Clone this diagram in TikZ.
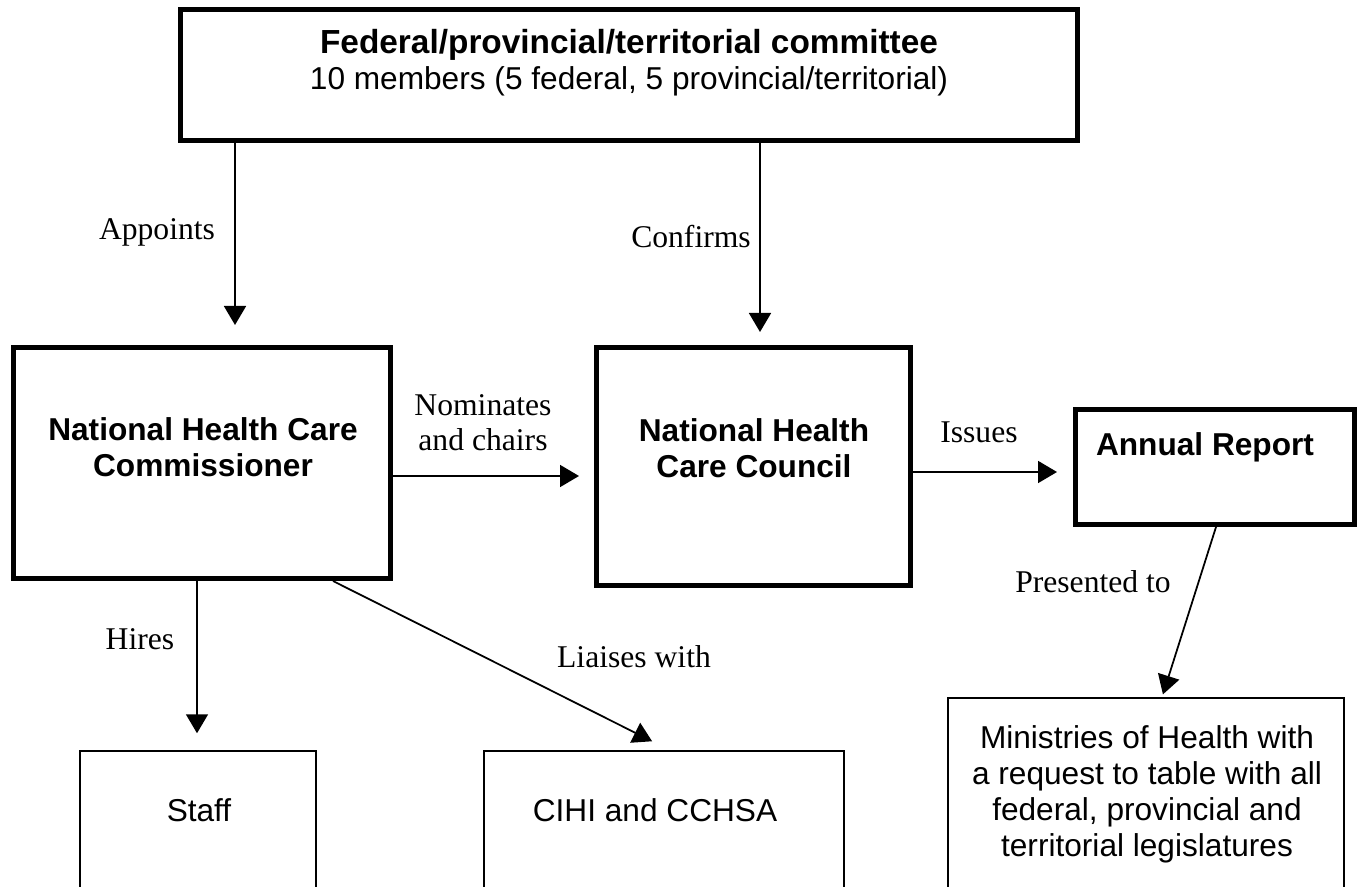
\documentclass[tikz,border=0pt]{standalone}
\usepackage{fontspec}
\setmainfont{Liberation Serif}
\setsansfont{Liberation Sans}
\usetikzlibrary{arrows.meta}

\tikzset{
    heavybox/.style={draw, line width=2.85pt, inner sep=0pt},
    lightbox/.style={draw, line width=0.85pt, inner sep=0pt},
    boxtext/.style={font=\sffamily\fontsize{18}{20.5}\selectfont, align=center, inner sep=0pt},
    linktext/.style={font=\fontsize{18}{20}\selectfont, align=center, inner sep=0pt},
    link/.style={line width=1pt, -{Triangle[length=0.38cm, width=0.44cm]}}
}

\begin{document}
\begin{tikzpicture}
        \clip (0,0) rectangle (27.28,17.72);

        % Committee at the top
        \node[heavybox, minimum width=17.94cm, minimum height=2.62cm] (fpt) at (12.58,16.22) {};
        \node[boxtext] (fpttext) at (12.58,16.46) {{\fontsize{19}{20.5}\selectfont\bfseries Federal/provincial/territorial committee}\\10 members (5 federal, 5 provincial/territorial)};

        % Commissioner, council and report
        \node[heavybox, minimum width=7.54cm, minimum height=4.62cm] (comm) at (4.04,8.46) {};
        \node[boxtext] (commtext) at (4.06,8.78) {\bfseries National Health Care\\\bfseries Commissioner};
        \node[heavybox, minimum width=6.28cm, minimum height=4.76cm] (council) at (15.07,8.39) {};
        \node[boxtext] (counciltext) at (15.08,8.76) {\bfseries National Health\\\bfseries Care Council};
        \node[heavybox, minimum width=5.58cm, minimum height=2.3cm] (report) at (24.3,8.38) {};
        \node[boxtext] (reporttext) at (24.1,8.78) {\bfseries Annual Report};

        % Bottom boxes, cut by the page edge
        \node[lightbox, minimum width=4.72cm, minimum height=3.38cm] (staff) at (3.96,1.01) {};
        \node[boxtext] (stafftext) at (3.98,1.52) {Staff};
        \node[lightbox, minimum width=7.2cm, minimum height=3.38cm] (cihi) at (13.28,1.01) {};
        \node[boxtext] (cihitext) at (13.1,1.52) {CIHI and CCHSA};
        \node[lightbox, minimum width=7.92cm, minimum height=4.44cm] (min) at (22.92,1.54) {};
        \node[boxtext] (mintext) at (22.94,1.83) {Ministries of Health with\\a request to table with all\\federal, provincial and\\territorial legislatures};

        % Connectors
        \draw[link, shorten >=0.4cm] (fpt.south -| 4.7,0) -- (comm.north -| 4.7,0);
        \draw[link, shorten >=0.26cm] (fpt.south -| 15.2,0) -- (council.north -| 15.2,0);
        \draw[link, shorten >=0.3cm] (comm.east |- 0,8.2) -- (council.west |- 0,8.2);
        \draw[link, shorten >=0.32cm] (council.east |- 0,8.28) -- (report.west |- 0,8.28);
        \draw[link, shorten >=0.34cm] (comm.south -| 3.94,0) -- (staff.north -| 3.94,0);
        \draw[link, shorten >=0.4cm] (comm.south -| 6.66,0) -- (cihi.north -| 13.4,0);
        \draw[link, shorten >=0.06cm] (report.south -| 24.32,0) -- (min.north -| 23.24,0);

        % Connector labels
        \node[linktext] (appoints) at (3.14,13.08) {Appoints};
        \node[linktext] (confirms) at (13.82,12.98) {Confirms};
        \node[linktext] (nominates) at (9.66,9.27) {Nominates\\and chairs};
        \node[linktext] (issues) at (19.58,9.08) {Issues};
        \node[linktext] (presented) at (21.86,6.08) {Presented to};
        \node[linktext] (hires) at (2.8,4.94) {Hires};
        \node[linktext] (liaises) at (12.68,4.58) {Liaises with};
\end{tikzpicture}
\end{document}
